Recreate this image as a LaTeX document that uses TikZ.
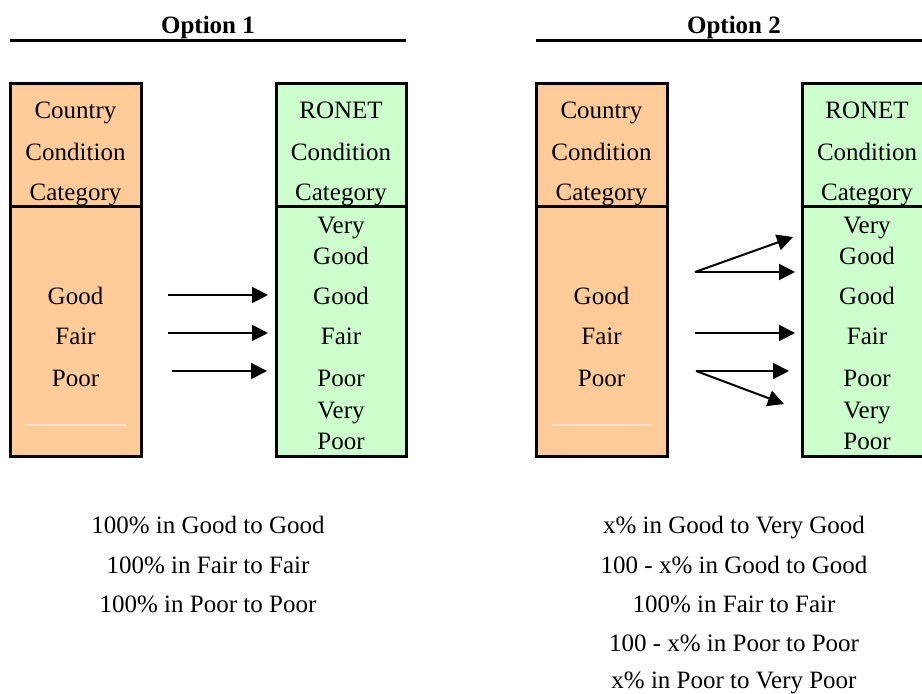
\documentclass[tikz,border=0pt]{standalone}
\usepackage{fontspec}
\setmainfont{Liberation Serif}
\usetikzlibrary{arrows.meta}
\definecolor{countryfill}{HTML}{FFCC99}
\definecolor{ronetfill}{HTML}{CCFFCC}
\definecolor{faintline}{HTML}{FFE2C6}
\tikzset{
  cell/.style={inner sep=0pt, text height=8.4pt, text depth=0pt, font=\fontsize{12.5}{15}\selectfont},
  title/.style={cell, font=\fontsize{12.5}{15}\selectfont\bfseries},
  frame/.style={line width=1.5pt},
  maparrow/.style={line width=1pt, -{Triangle[length=8pt,width=8pt]}}
}
\begin{document}
\begin{tikzpicture}[x=0.5pt, y=-0.5pt]
        \clip (0,0) rectangle (922,694);
        \foreach \dx/\n in {0/1, 526/2}{
            \node[title] (option\n) at (208+\dx,25){Option \n};
            \draw[frame] (10+\dx,41) -- (406+\dx+10*\n-10,41);
            \filldraw[frame, fill=countryfill] (10+\dx,84) rectangle (141+\dx,457);
            \draw[frame] (10+\dx,207) -- (141+\dx,207);
            \draw[faintline, line width=0.8pt] (25+\dx,425) -- (126+\dx,425);
            \filldraw[frame, fill=ronetfill] (276+\dx,84) rectangle (406+\dx,457);
            \draw[frame] (276+\dx,207) -- (406+\dx,207);
            \node[cell] (country\n) at (75.5+\dx,110){Country};
            \node[cell] (cond\n) at (75.5+\dx,152){Condition};
            \node[cell] (cat\n) at (75.5+\dx,192){Category};
            \node[cell] (good\n) at (75.5+\dx,296){Good};
            \node[cell] (fair\n) at (75.5+\dx,336){Fair};
            \node[cell] (poor\n) at (75.5+\dx,378){Poor};
            \node[cell] (ronet\n) at (341+\dx,110){RONET};
            \node[cell] (rcond\n) at (341+\dx,152){Condition};
            \node[cell] (rcat\n) at (341+\dx,192){Category};
            \node[cell] (rvery\n) at (341+\dx,225){Very};
            \node[cell] (rvgood\n) at (341+\dx,256){Good};
            \node[cell] (rgood\n) at (341+\dx,296){Good};
            \node[cell] (rfair\n) at (341+\dx,336){Fair};
            \node[cell] (rpoor\n) at (341+\dx,378){Poor};
            \node[cell] (rverypoor\n) at (341+\dx,410){Very};
            \node[cell] (rvpoor\n) at (341+\dx,441){Poor};
        }

        % option 1 arrows
        \coordinate (g1) at (168,295);
        \coordinate (f1) at (168,333);
        \coordinate (p1) at (172,371);
        \coordinate (tg1) at (268,295);
        \coordinate (tf1) at (268,333);
        \coordinate (tp1) at (267,371);
        \draw[maparrow] (g1) -- (tg1);
        \draw[maparrow] (f1) -- (tf1);
        \draw[maparrow] (p1) -- (tp1);

        % option 2 arrows
        \coordinate (g2) at (695,272);
        \coordinate (f2) at (695,333);
        \coordinate (p2) at (696,371);
        \coordinate (tvg2) at (793,237);
        \coordinate (tg2) at (795,272);
        \coordinate (tf2) at (795,333);
        \coordinate (tp2) at (789,371);
        \coordinate (tvp2) at (784,404);
        \draw[maparrow] (g2) -- (tvg2);
        \draw[maparrow] (g2) -- (tg2);
        \draw[maparrow] (f2) -- (tf2);
        \draw[maparrow] (p2) -- (tp2);
        \draw[maparrow] (p2) -- (tvp2);

        \node[cell] (sum1a) at (208,525){100\% in Good to Good};
        \node[cell] (sum1b) at (208,565){100\% in Fair to Fair};
        \node[cell] (sum1c) at (208,604){100\% in Poor to Poor};
        \node[cell] (sum2a) at (734,525){x\% in Good to Very Good};
        \node[cell] (sum2b) at (734,565){100 - x\% in Good to Good};
        \node[cell] (sum2c) at (734,604){100\% in Fair to Fair};
        \node[cell] (sum2d) at (734,643){100 - x\% in Poor to Poor};
        \node[cell] (sum2e) at (734,680){x\% in Poor to Very Poor};
    \end{tikzpicture}
\end{document}
